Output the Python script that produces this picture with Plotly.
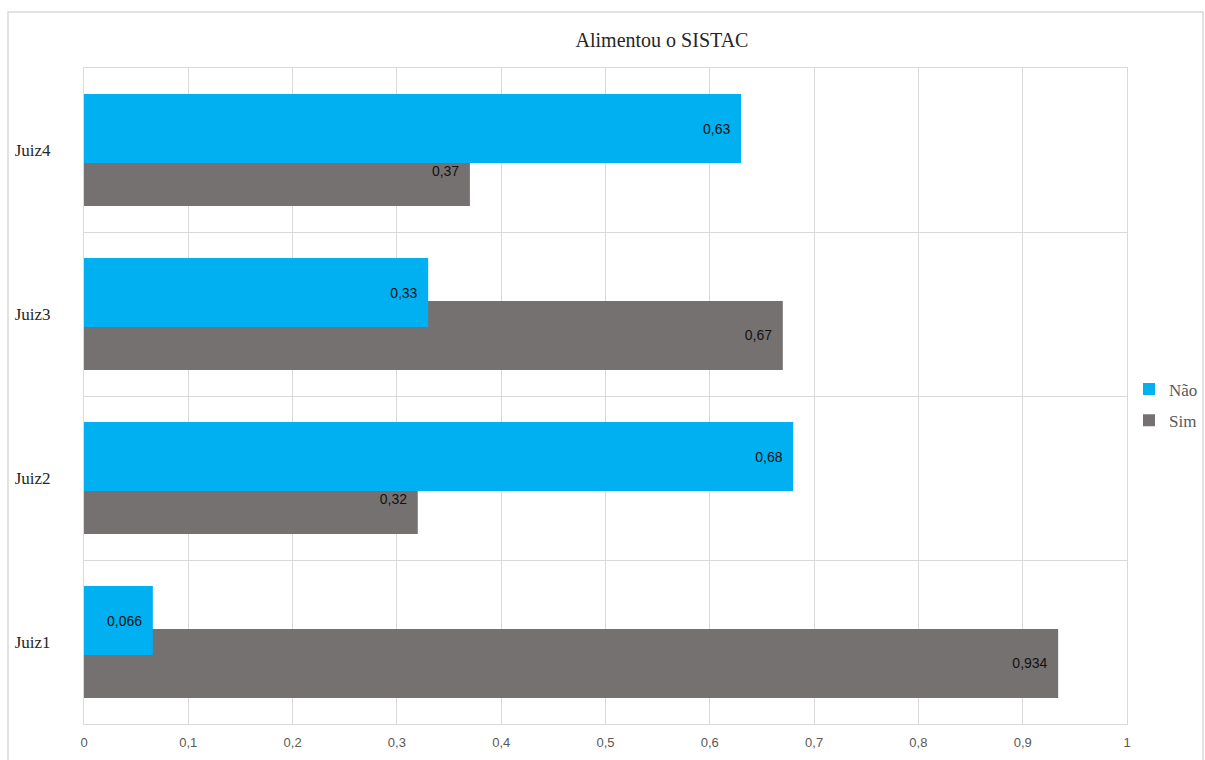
import plotly.graph_objects as go

categories = ["Juiz1", "Juiz2", "Juiz3", "Juiz4"]
nao_values = [0.066, 0.68, 0.33, 0.63]
sim_values = [0.934, 0.32, 0.67, 0.37]
x_ticks = [0, 0.1, 0.2, 0.3, 0.4, 0.5, 0.6, 0.7, 0.8, 0.9, 1]
x_tick_labels = ["0", "0,1", "0,2", "0,3", "0,4", "0,5", "0,6", "0,7", "0,8", "0,9", "1"]

ypos = list(range(len(categories)))
fmt = lambda v: str(v).replace(".", ",") + "\u00a0\u00a0"

W, H = 1205, 760
L, R, T, B = 84, 1127, 68, 724
px = lambda x: (x - L) / (R - L)
py = lambda y: (B - y) / (B - T)

fig = go.Figure()
fig.add_trace(go.Bar(
    name="Sim", y=ypos, x=sim_values, orientation="h",
    offset=-0.341, width=0.42, marker=dict(color="#767171", line=dict(width=0)),
    text=[fmt(v) for v in sim_values], textposition="inside", insidetextanchor="end",
    textfont=dict(family="Liberation Sans", size=14, color="#111111"),
    legendrank=2, legendgroup="sim",
))
fig.add_trace(go.Bar(
    name="Não", y=ypos, x=nao_values, orientation="h",
    offset=-0.079, width=0.42, marker=dict(color="#00B0F0", line=dict(width=0)),
    text=[fmt(v) for v in nao_values], textposition="inside", insidetextanchor="end",
    textfont=dict(family="Liberation Sans", size=14, color="#111111"),
    legendrank=1, legendgroup="nao",
))

fig.update_layout(
    width=W, height=H,
    margin=dict(l=L, r=W - R, t=T, b=H - B, autoexpand=False),
    barmode="overlay",
    plot_bgcolor="white", paper_bgcolor="white",
    separators=",.",
    uniformtext=dict(mode="show", minsize=10),
    title=dict(text="Alimentou o SISTAC", x=px(657), xanchor="center", y=1 - 40 / H, yanchor="middle",
               font=dict(family="Liberation Serif", size=20, color="#262626")),
    legend=dict(x=px(1129), xanchor="left", y=py(405), yanchor="middle",
                font=dict(family="Liberation Serif", size=17, color="#595959"),
                itemwidth=30, tracegroupgap=6, bgcolor="rgba(0,0,0,0)"),
    showlegend=True,
    xaxis=dict(range=[0, 1], tickvals=x_ticks, ticktext=x_tick_labels,
               showgrid=True, gridcolor="#D9D9D9", gridwidth=1, zeroline=False,
               showline=True, linecolor="#D9D9D9", linewidth=1, mirror=True,
               tickfont=dict(family="Liberation Sans", size=13, color="#595959"),
               ticks="", ticklabelstandoff=6),
    yaxis=dict(range=[-0.5, 3.5], tickvals=ypos, ticktext=categories,
               showgrid=False, zeroline=False,
               showline=True, linecolor="#D9D9D9", linewidth=1, mirror=True,
               minor=dict(tickvals=[0.5, 1.5, 2.5], showgrid=True, gridcolor="#D9D9D9", gridwidth=1, ticks=""),
               tickfont=dict(family="Liberation Serif", size=17, color="#262626"),
               ticks="", ticklabelstandoff=29),
    shapes=[dict(type="rect", xref="paper", yref="paper",
                 x0=px(8), x1=px(1203), y0=py(772), y1=py(12),
                 line=dict(color="#D9D9D9", width=1.5), fillcolor="rgba(0,0,0,0)", layer="below")],
)

fig.write_html("out.html", config={"displayModeBar": False},
               post_script="document.body.style.margin='0';")
